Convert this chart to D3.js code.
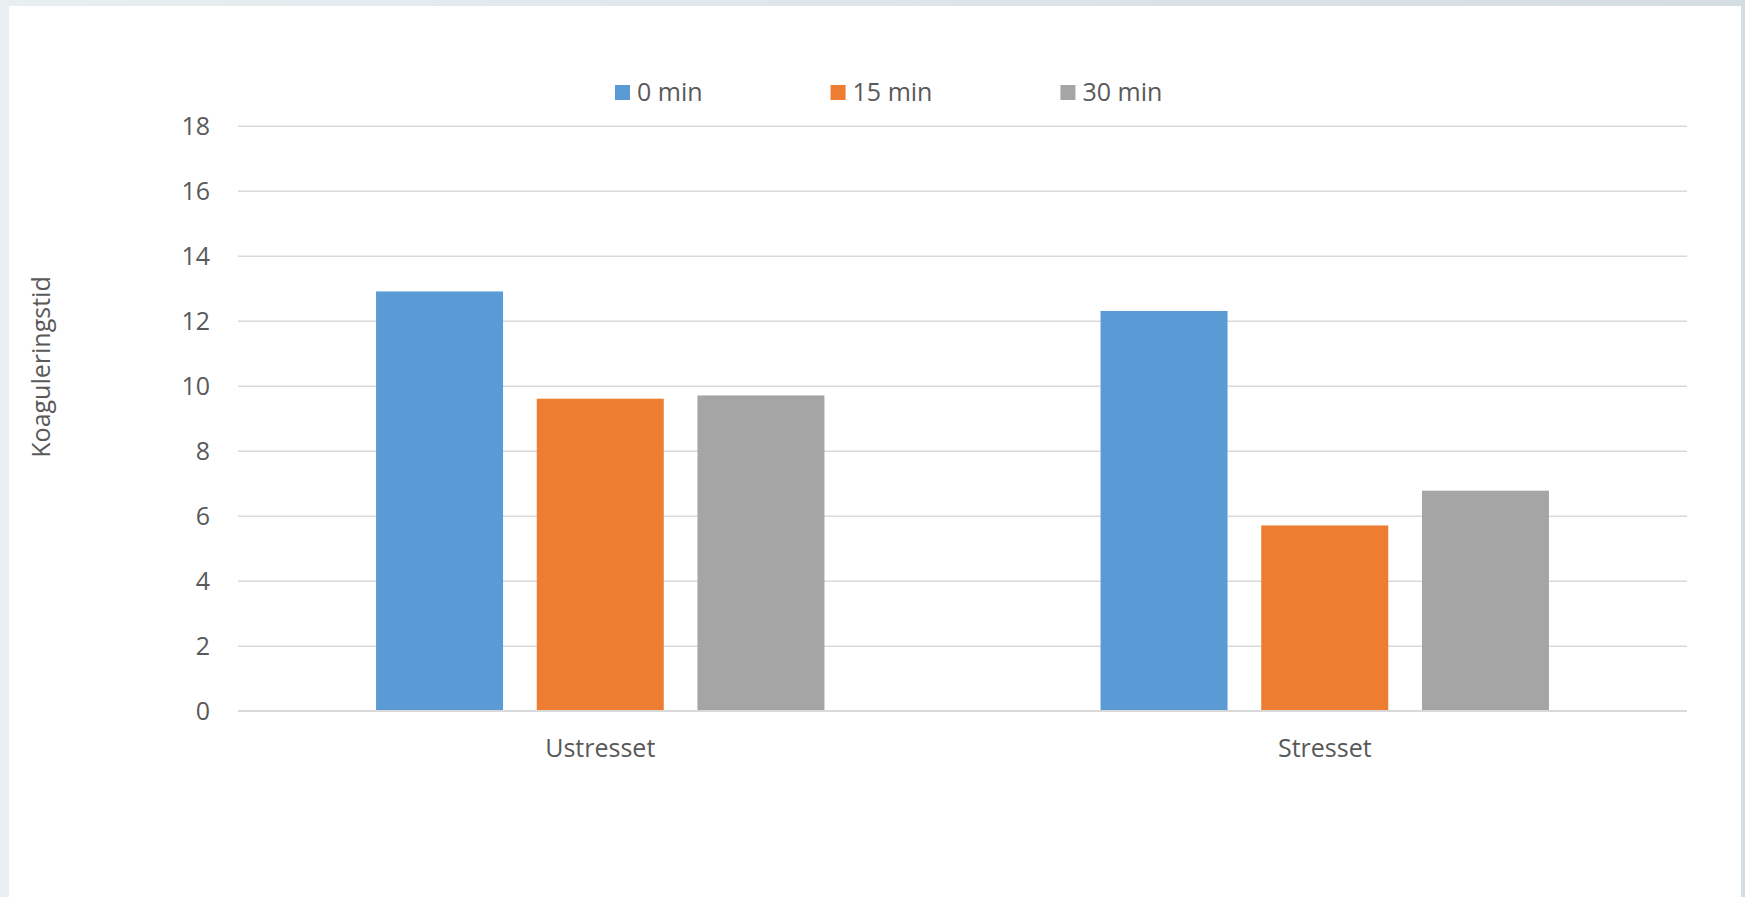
<!DOCTYPE html>
<html>
<head>
<meta charset="utf-8">
<script src="https://cdn.jsdelivr.net/npm/d3@7"></script>
<style>
  html, body { margin: 0; padding: 0; }
  body { width: 1745px; height: 897px; overflow: hidden; }
  text { font-family: "Open Sans", sans-serif; fill: #595959; }
</style>
</head>
<body>
<svg id="chart" width="1745" height="897"></svg>
<script>
const categories = ["Ustresset", "Stresset"];
const seriesNames = ["0 min", "15 min", "30 min"];
const series0 = [12.9, 12.3];
const series15 = [9.6, 5.7];
const series30 = [9.7, 6.77];
const yTicks = [0, 2, 4, 6, 8, 10, 12, 14, 16, 18];
const colors = ["#5b9bd5", "#ed7d31", "#a5a5a5"];
const yTitle = "Koaguleringstid";

const seriesValues = [series0, series15, series30];

const svg = d3.select("#chart");

// background
const defs = svg.append("defs");
const grad = defs.append("linearGradient").attr("id", "bg").attr("x1", "0").attr("x2", "1").attr("y1", "0").attr("y2", "0");
grad.append("stop").attr("offset", "0").attr("stop-color", "#e9eef1");
grad.append("stop").attr("offset", "1").attr("stop-color", "#d4dde2");
svg.append("rect").attr("width", 1745).attr("height", 897).attr("fill", "url(#bg)");
svg.append("rect").attr("x", 9).attr("y", 6).attr("width", 1732).attr("height", 900).attr("fill", "#ffffff");

const x0 = d3.scaleBand().domain(categories).range([238, 1687]).paddingInner(0).paddingOuter(0);
const x1 = d3.scaleBand().domain(seriesNames).range([0, x0.bandwidth()]).paddingInner(0.2097).paddingOuter(0.859);
const y = d3.scaleLinear().domain([0, 18]).range([710.7, 125.7]);

// gridlines
const yAxis = d3.axisLeft(y).tickValues(yTicks).tickSize(-(1687 - 238)).tickPadding(28).tickFormat(d3.format("d"));
const gy = svg.append("g").attr("transform", "translate(238,0)").call(yAxis);
gy.select(".domain").remove();
gy.selectAll(".tick line").attr("stroke", "#d9d9d9").attr("stroke-width", 1.6);
gy.selectAll(".tick text").style("font-size", "25px").attr("fill", "#595959").attr("dy", "0.36em");

// bars
const data = [];
categories.forEach((c, i) => {
  seriesNames.forEach((s, j) => {
    data.push({ cat: c, ser: s, value: seriesValues[j][i], color: colors[j] });
  });
});

svg.append("g").selectAll("rect").data(data).join("rect")
  .attr("x", d => x0(d.cat) + x1(d.ser))
  .attr("y", d => y(d.value))
  .attr("width", x1.bandwidth())
  .attr("height", d => y(0) - y(d.value))
  .attr("fill", d => d.color);

// baseline
svg.append("line").attr("x1", 238).attr("x2", 1687).attr("y1", y(0)).attr("y2", y(0))
  .attr("stroke", "#d9d9d9").attr("stroke-width", 1.6);

// x labels
const xAxis = d3.axisBottom(x0).tickSize(0).tickPadding(0);
const gx = svg.append("g").attr("transform", "translate(0,0)").call(xAxis);
gx.select(".domain").remove();
gx.selectAll(".tick text").attr("y", 757).attr("dy", null).style("font-size", "25px").attr("fill", "#595959");

// y title
svg.append("text")
  .attr("transform", "translate(50,367) rotate(-90)")
  .attr("text-anchor", "middle")
  .style("font-size", "25px")
  .text(yTitle);

// legend
const lg = svg.append("g");
let lx = 615;
seriesNames.forEach((s, j) => {
  lg.append("rect").attr("x", lx).attr("y", 85).attr("width", 15).attr("height", 15).attr("fill", colors[j]);
  const t = lg.append("text").attr("x", lx + 22).attr("y", 101).style("font-size", "25px").text(s);
  const w = t.node().getComputedTextLength();
  lx = lx + 22 + w + 128;
});
</script>
</body>
</html>
